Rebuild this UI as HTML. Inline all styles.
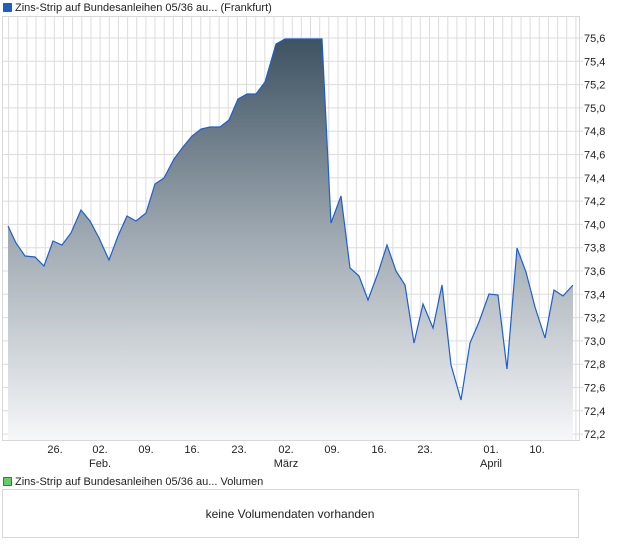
<!DOCTYPE html>
<html><head><meta charset="utf-8"><style>
body{margin:0;background:#fff;width:620px;height:546px;overflow:hidden;font-family:"Liberation Sans",sans-serif}
</style></head><body>
<svg width="620" height="546" xmlns="http://www.w3.org/2000/svg" font-family="Liberation Sans, sans-serif">
<defs><linearGradient id="g" x1="0" y1="0" x2="0" y2="1" gradientUnits="objectBoundingBox">
<stop offset="0" stop-color="#3d5262"/><stop offset="0.5" stop-color="#a0aab2"/><stop offset="1" stop-color="#f6f7f9"/></linearGradient></defs>
<rect x="3.5" y="3.5" width="8" height="8" fill="#1f5fbf" stroke="#333" stroke-width="0.7"/>
<text x="15" y="11" font-size="11" fill="#222">Zins-Strip auf Bundesanleihen 05/36 au... (Frankfurt)</text>
<g stroke="#dcdcdc" stroke-width="1" id="grid"></g>
<path id="area" fill="url(#g)"/>
<path id="line" fill="none" stroke="#1d5fd0" stroke-width="1.2"/>
<rect x="2.5" y="16.5" width="577" height="424" fill="none" stroke="#d8d8d8"/>
<g font-size="11" fill="#222" id="yl"></g>
<g font-size="11" fill="#222" text-anchor="middle">
<text x="55" y="453">26.</text><text x="100" y="453">02.</text><text x="100" y="467">Feb.</text>
<text x="146" y="453">09.</text><text x="192" y="453">16.</text><text x="239" y="453">23.</text>
<text x="286" y="453">02.</text><text x="286" y="467">März</text>
<text x="332" y="453">09.</text><text x="379" y="453">16.</text><text x="425" y="453">23.</text>
<text x="491" y="453">01.</text><text x="491" y="467">April</text><text x="537" y="453">10.</text>
</g>
<rect x="3.5" y="477.5" width="8" height="8" fill="#66cc66" stroke="#333" stroke-width="0.7"/>
<text x="15" y="485" font-size="11" fill="#222">Zins-Strip auf Bundesanleihen 05/36 au... Volumen</text>
<rect x="2.5" y="489.5" width="576" height="48" fill="#fff" stroke="#d8d8d8"/>
<text x="290" y="518" font-size="12" fill="#222" text-anchor="middle">keine Volumendaten vorhanden</text>
</svg>
<script>
var ns="http://www.w3.org/2000/svg",g=document.getElementById('grid'),yl=document.getElementById('yl');
function ln(x1,y1,x2,y2){var l=document.createElementNS(ns,'line');l.setAttribute('x1',x1);l.setAttribute('y1',y1);l.setAttribute('x2',x2);l.setAttribute('y2',y2);g.appendChild(l);}
for(var x=8.6;x<579;x+=9.15)ln(x.toFixed(1),16,x.toFixed(1),440);
for(var i=0;i<=17;i++){var v=75.6-i*0.2,y=38+i*23.3;ln(3,y,579,y);ln(579,y,583,y);
var t=document.createElementNS(ns,'text');t.setAttribute('x',584);t.setAttribute('y',y+4);t.textContent=v.toFixed(1).replace('.',',');yl.appendChild(t);}
var p=[[8,226],[16,243],[25,256],[35,257],[44,266],[53,241],[62,245],[71,233],[81,210],[90,221],[99,238],[109,260],[118,236],[127,216],[136,221],[146,213],[155,184],[164,178],[174,159],[183,147],[192,136],[201,129],[210,127],[220,127],[229,120],[238,99],[247,94],[256,94],[265,82],[276,44],[285,39],[294,39],[303,39],[313,39],[322,39],[331,223],[341,196],[350,268],[359,276],[368,300],[378,273],[387,245],[396,271],[405,285],[414,343],[423,304],[433,328],[442,285],[451,365],[461,400],[470,343],[479,322],[489,294],[498,295],[507,369],[517,248],[526,272],[535,307],[545,338],[554,290],[563,296],[573,285]];
var d="M"+p.map(function(a){return a.join(',')}).join(' L');
document.getElementById('line').setAttribute('d',d);
document.getElementById('area').setAttribute('d',d+" L573,440 L8,440 Z");
</script>
</body></html>
